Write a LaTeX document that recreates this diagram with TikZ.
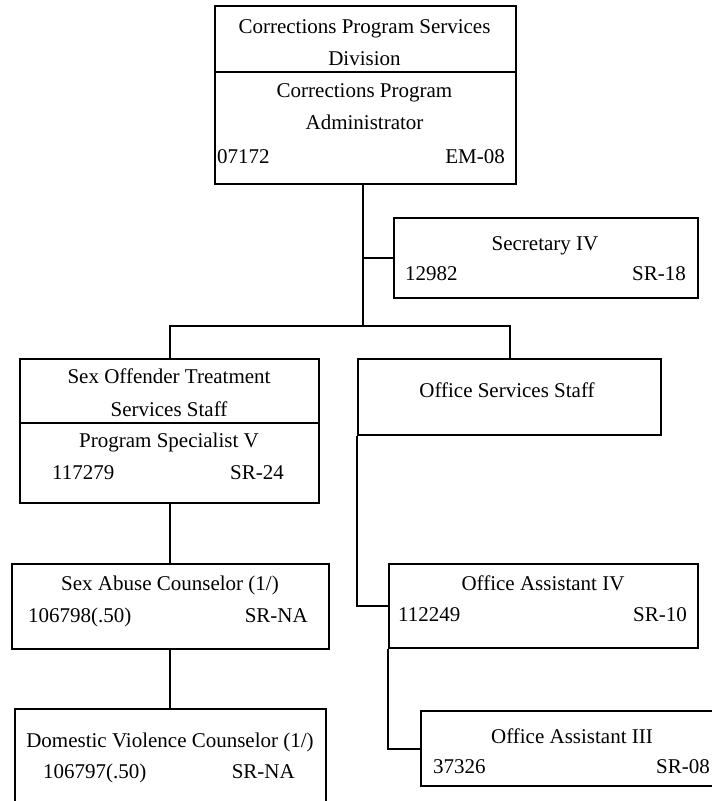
\documentclass[tikz,border=0pt]{standalone}
\usepackage{fontspec}
\setmainfont{Liberation Serif}
\begin{document}
\begin{tikzpicture}[x=1pt,y=-1pt,
  box/.style={draw, line width=2.4pt, rectangle, inner sep=0pt, anchor=north west},
  conn/.style={line width=2.4pt},
  txt/.style={inner sep=0pt, font=\fontsize{21}{25}\selectfont},
  ctr/.style={txt, anchor=base},
  lft/.style={txt, anchor=base west},
  rgt/.style={txt, anchor=base east}]
\useasboundingbox (0,0) rectangle (712,801);
\clip (0,0) rectangle (712,801);

% ---- boxes ----
\node[box, minimum width=301pt, minimum height=178pt] (top) at (214,5) {};
\node[box, minimum width=304pt, minimum height=80pt]  (sec) at (393,217) {};
\node[box, minimum width=299pt, minimum height=144pt] (lb)  at (19,358) {};
\node[box, minimum width=303pt, minimum height=76pt]  (rb)  at (357,358) {};
\node[box, minimum width=317pt, minimum height=85pt]  (sa)  at (11,563) {};
\node[box, minimum width=311pt, minimum height=115pt] (dv)  at (14,708) {};
\node[box, minimum width=309pt, minimum height=84pt]  (oa4) at (388,563) {};
\node[box, minimum width=304pt, minimum height=75pt]  (oa3) at (420,710) {};

% dividers
\draw[conn] (top.west |- 0,72) -- (top.east |- 0,72);
\draw[conn] (lb.west |- 0,423) -- (lb.east |- 0,423);

% ---- texts ----
\node[ctr] (t1) at (364.5,33) {Corrections Program Services};
\node[ctr] (t2) at (364.5,65) {Division};
\node[ctr] (t3) at (364.5,97) {Corrections Program};
\node[ctr] (t4) at (364.5,129) {Administrator};
\node[lft] (t5) at (217,163) {07172};
\node[rgt] (t6) at (505,163) {EM-08};

\node[ctr] (s1) at (545,250) {Secretary IV};
\node[lft] (s2) at (405,280) {12982};
\node[rgt] (s3) at (686,280) {SR-18};

\node[ctr] (l1) at (169,383) {Sex Offender Treatment};
\node[ctr] (l2) at (169,416) {Services Staff};
\node[ctr] (l3) at (169,447) {Program Specialist V};
\node[lft] (l4) at (52,479) {117279};
\node[rgt] (l5) at (284,479) {SR-24};

\node[ctr] (r1) at (507,397) {Office Services Staff};

\node[ctr] (a1) at (170,590) {Sex Abuse Counselor (1/)};
\node[lft] (a2) at (28,622) {106798(.50)};
\node[rgt] (a3) at (308,622) {SR-NA};

\node[ctr] (d1) at (170,747) {Domestic Violence Counselor (1/)};
\node[lft] (d2) at (43,778) {106797(.50)};
\node[rgt] (d3) at (295,778) {SR-NA};

\node[ctr] (o1) at (543,590) {Office Assistant IV};
\node[lft] (o2) at (398,621) {112249};
\node[rgt] (o3) at (687,621) {SR-10};

\node[ctr] (p1) at (572,743) {Office Assistant III};
\node[lft] (p2) at (433,773) {37326};
\node[rgt] (p3) at (710,773) {SR-08};

% ---- connectors ----
\coordinate (j)  at (363,326);
\coordinate (jl) at (170,326);
\coordinate (jr) at (510,326);
\coordinate (jd) at (170,0);
\draw[conn] (top.south -| j) -- (j);
\draw[conn] (sec.west) -- (sec.west -| j);
\draw[conn] (lb.north -| jl) -- (jl) -- (jr) -- (rb.north -| jr);
\draw[conn] (lb.south -| jd) -- (sa.north -| jd);
\draw[conn] (sa.south -| jd) -- (dv.north -| jd);
\draw[conn] (rb.south west) -- (rb.south west |- oa4.west) -- (oa4.west);
\draw[conn] (oa4.south west) |- (oa3.west);
\end{tikzpicture}
\end{document}
